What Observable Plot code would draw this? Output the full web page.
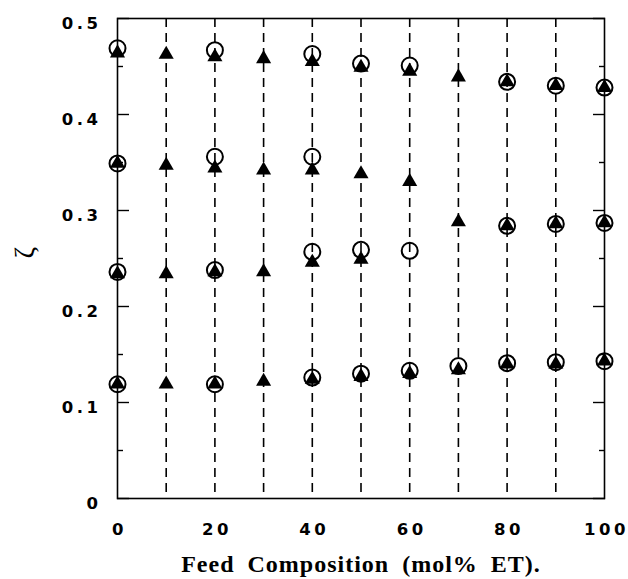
<!DOCTYPE html>
<html>
<head>
<meta charset="utf-8">
<script src="https://cdn.jsdelivr.net/npm/d3@7"></script>
<script src="https://cdn.jsdelivr.net/npm/@observablehq/plot@0.6"></script>
<style>
  html, body { margin: 0; padding: 0; background: #fff; }
  #chart svg g[aria-label="y-axis tick label"] text,
  #chart svg g[aria-label="x-axis tick label"] text { letter-spacing: 3.5px; }
</style>
</head>
<body>
<div id="chart"></div>
<script>
// ---- data ----
const gridX = [10, 20, 30, 40, 50, 60, 70, 80, 90];

const circleX = [0, 20, 40, 50, 60, 80, 90, 100,
                 0, 20, 40,
                 0, 20, 40, 50, 60, 80, 90, 100,
                 0, 20, 40, 50, 60, 70, 80, 90, 100];
const circleY = [0.469, 0.467, 0.463, 0.453, 0.451, 0.434, 0.430, 0.428,
                 0.349, 0.356, 0.356,
                 0.236, 0.238, 0.257, 0.259, 0.258, 0.284, 0.286, 0.287,
                 0.119, 0.119, 0.126, 0.130, 0.133, 0.138, 0.141, 0.142, 0.143];

const triangleX = [0, 10, 20, 30, 40, 50, 60, 70, 80, 90, 100,
                   0, 10, 20, 30, 40, 50, 60,
                   0, 10, 20, 30, 40, 50, 70, 80, 90, 100,
                   0, 10, 20, 30, 40, 50, 60, 70, 80, 90, 100];
const triangleY = [0.464, 0.4625, 0.460, 0.458, 0.455, 0.449, 0.445, 0.439, 0.434, 0.430, 0.428,
                   0.349, 0.347, 0.344, 0.342, 0.342, 0.338, 0.330,
                   0.234, 0.234, 0.236, 0.236, 0.246, 0.249, 0.288, 0.284, 0.286, 0.287,
                   0.119, 0.119, 0.119, 0.122, 0.124, 0.127, 0.130, 0.134, 0.140, 0.140, 0.143];

const yTickValues = [0, 0.1, 0.2, 0.3, 0.4, 0.5];
const yTickLabels = ["0", "0.1", "0.2", "0.3", "0.4", "0.5"];
const yMinorTicks = [0.05, 0.15, 0.25, 0.35, 0.45];
const xTickValues = [0, 20, 40, 60, 80, 100];
const xTickLabels = ["0", "20", "40", "60", "80", "100"];
const xTitle = "Feed Composition (mol% ET).";
const yTitle = "ζ";

// ---- build ----
const circles = circleX.map((x, i) => ({x, y: circleY[i]}));
const triangles = triangleX.map((x, i) => ({x, y: triangleY[i]}));

const tickFont = {fontFamily: "'DejaVu Sans', sans-serif", fontWeight: "bold", fontSize: 16.5};

const chart = Plot.plot({
  width: 628,
  height: 579,
  marginLeft: 117,
  marginRight: 24,
  marginTop: 18,
  marginBottom: 81,
  style: {background: "#fff", color: "#000", overflow: "visible"},
  x: {domain: [0, 100]},
  y: {domain: [0, 0.5]},
  marks: [
    Plot.ruleX(gridX, {stroke: "#000", strokeWidth: 1.6, strokeDasharray: "9,6"}),
    Plot.frame({stroke: "#000", strokeWidth: 1.6}),
    // inward ticks
    Plot.axisY({anchor: "left", ticks: yTickValues, tickSize: -12, tickFormat: () => "", strokeWidth: 1.4, label: null}),
    Plot.axisY({anchor: "left", ticks: yMinorTicks, tickSize: -6, tickFormat: () => "", strokeWidth: 1.4, label: null}),
    Plot.axisY({anchor: "right", ticks: yTickValues, tickSize: -12, tickFormat: () => "", strokeWidth: 1.4, label: null}),
    Plot.axisY({anchor: "right", ticks: yMinorTicks, tickSize: -6, tickFormat: () => "", strokeWidth: 1.4, label: null}),
    // tick labels
    Plot.axisY({anchor: "left", ticks: yTickValues, tickSize: 0, tickPadding: 16,
      tickFormat: (d) => yTickLabels[yTickValues.indexOf(d)], dy: 5, label: null, ...tickFont}),
    Plot.axisX({anchor: "bottom", ticks: xTickValues, tickSize: 0, tickPadding: 25,
      tickFormat: (d) => xTickLabels[xTickValues.indexOf(d)], dx: 2, label: null, ...tickFont}),
    // data
    Plot.dot(circles, {x: "x", y: "y", r: 8, stroke: "#000", strokeWidth: 2, fill: "none"}),
    Plot.dot(triangles, {x: "x", y: "y", r: 5.6, symbol: "triangle", fill: "#000", stroke: "none"}),
    // titles
    Plot.text([xTitle], {frameAnchor: "bottom", dy: 66, text: (d) => d, lineAnchor: "middle",
      fontFamily: "'Liberation Serif', 'Times New Roman', serif", fontWeight: "bold", fontSize: 24, fill: "#000"}),
    Plot.text([yTitle], {frameAnchor: "left", dx: -92, text: (d) => d, rotate: -90,
      fontFamily: "'Liberation Serif', 'Times New Roman', serif", fontSize: 28, fill: "#000"})
  ]
});
document.getElementById("chart").appendChild(chart);
d3.select(chart).selectAll("text").filter(function () { return this.textContent === xTitle; })
  .style("letter-spacing", "1px").style("word-spacing", "6px");
</script>
</body>
</html>
